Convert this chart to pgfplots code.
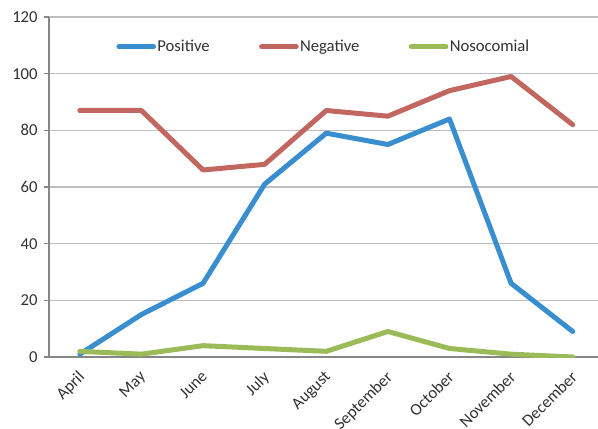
\documentclass[border=0pt]{standalone}
\usepackage{fontspec}
\setmainfont{Carlito}
\usepackage{pgfplots}
\pgfplotsset{compat=1.18}
\definecolor{cblue}{RGB}{56,142,207}
\definecolor{cred}{RGB}{194,102,96}
\definecolor{cgreen}{RGB}{155,187,89}
\definecolor{axgray}{RGB}{134,134,134}
\definecolor{gridgray}{RGB}{190,190,190}
\definecolor{txt}{RGB}{50,50,50}
\begin{document}
\begin{tikzpicture}[x=1pt,y=1pt]
\begin{axis}[
  name=ax,
  scale only axis,
  width=411.75pt, height=255pt,
  xmin=-0.5, xmax=8.41,
  ymin=0, ymax=120,
  ytick={0,20,...,120},
  xtick={0,...,8},
  xticklabels={April,May,June,July,August,September,October,November,December},
  extra x ticks={-0.5,0.5,1.5,2.5,3.5,4.5,5.5,6.5,7.5},
  extra x tick labels={},
  extra x tick style={major tick length=5pt, tick style={axgray, line width=0.8pt}, tick align=outside, grid=none},
  major x tick style={draw=none},
  axis x line*=bottom,
  axis y line*=left,
  axis line style={axgray, line width=0.8pt},
  ytick style={axgray, line width=0.8pt},
  tick align=outside,
  major tick length=4pt,
  ymajorgrids,
  major grid style={gridgray, line width=0.8pt},
  every tick label/.append style={font=\fontsize{12.5}{14}\selectfont, text=txt},
  /pgf/number format/assume math mode=true,
  x tick label style={anchor=north east, inner sep=1pt, xshift=-2pt, yshift=-4pt, rotate=45},
  y tick label style={xshift=-1pt},
  legend style={draw=none, fill=none, at={(0.5,1)}, anchor=north, yshift=-13pt,
     font=\fontsize{12.5}{14}\selectfont, text=txt, nodes={inner xsep=1pt},
     /tikz/every even column/.append style={column sep=36pt}},
  legend columns=3,
  legend image code/.code={\draw[#1, line cap=round] (0pt,0pt) -- (26pt,0pt);},
  legend cell align=left,
  every axis plot/.append style={line width=3.75pt, line join=round, line cap=round},
]
\addplot[cblue] coordinates {(0,1) (1,15) (2,26) (3,61) (4,79) (5,75) (6,84) (7,26) (8,9)};
\addlegendentry{Positive}
\addplot[cred] coordinates {(0,87) (1,87) (2,66) (3,68) (4,87) (5,85) (6,94) (7,99) (8,82)};
\addlegendentry{Negative}
\addplot[cgreen] coordinates {(0,2) (1,1) (2,4) (3,3) (4,2) (5,9) (6,3) (7,1) (8,0)};
\addlegendentry{Nosocomial}
\end{axis}
\pgfresetboundingbox
\path[use as bounding box] ([xshift=-36.75pt, yshift=-53.25pt]ax.south west) rectangle ([yshift=12.75pt]ax.north east);
\end{tikzpicture}
\end{document}
